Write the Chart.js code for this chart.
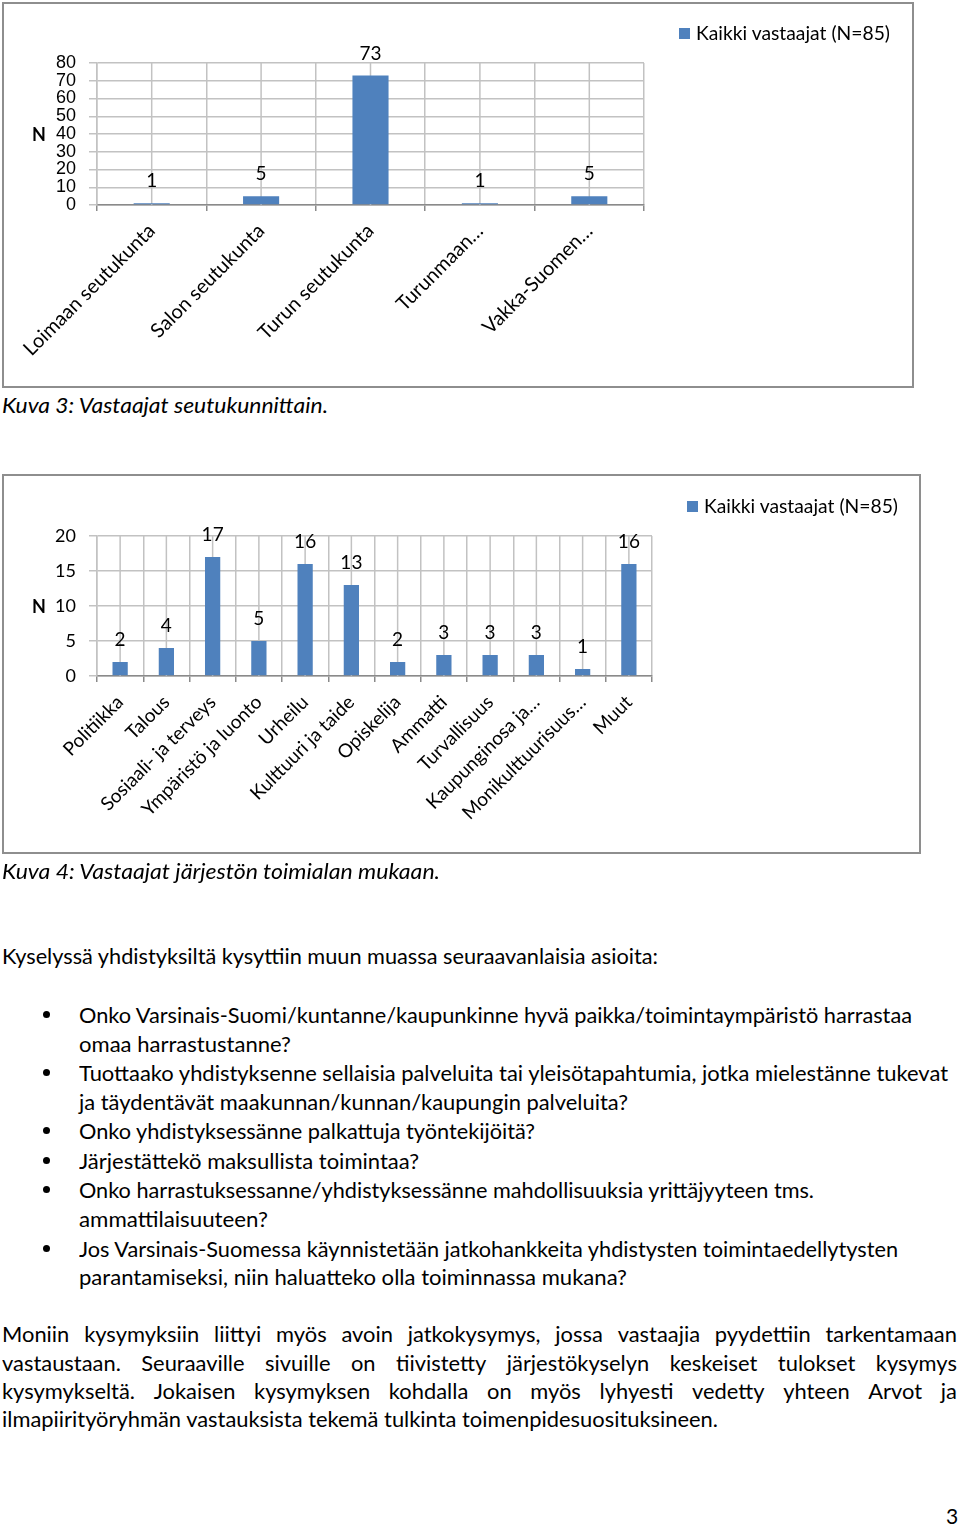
<!DOCTYPE html>
<html>
<head>
<meta charset="utf-8">
<script src="https://cdn.jsdelivr.net/npm/chart.js@4.4.1/dist/chart.umd.min.js"></script>
<style>
  body { margin: 0; width: 960px; height: 1525px; position: relative; overflow: hidden; background: #fff; font-family: Lato, "Open Sans", sans-serif; color: #000; }
  .box { position: absolute; border: 2px solid #8e8e8e; box-sizing: border-box; }
  canvas.cv { position: absolute; left: 0; }
  .ln { position: absolute; white-space: nowrap; font-size: 21px; line-height: 29px; height: 29px; transform-origin: 0 50%; }
  .ln.it { font-style: italic; }
  .ln.jf { display: flex; justify-content: space-between; }
  .dot { position: absolute; width: 7px; height: 7px; border-radius: 50%; background: #000; }
  .ax { position: absolute; font-weight: bold; font-size: 18px; line-height: 20px; }
  .lg { position: absolute; height: 24px; line-height: 24px; font-size: 19px; white-space: nowrap; }
  .lg i { position: absolute; left: 0; top: 7px; width: 11px; height: 11px; background: #4f81bd; }
  .lg span { position: absolute; left: 17px; top: 0; transform-origin: 0 50%; }
</style>
</head>
<body>

<div class="box" style="left:2px; top:2px; width:912px; height:386px;"></div>
<canvas id="regionChart" class="cv" style="top:0;" width="960" height="390"></canvas>
<div class="ax" style="left:32px; top:124px;">N</div>
<div class="lg" id="lg1" style="left:679px; top:21px;"><i></i><span></span></div>

<div class="box" style="left:2px; top:474px; width:919px; height:380px;"></div>
<canvas id="fieldChart" class="cv" style="top:470px;" width="960" height="400"></canvas>
<div class="ax" style="left:32px; top:596px;">N</div>
<div class="lg" id="lg2" style="left:687px; top:494px;"><i></i><span></span></div>

<div id="text"></div>

<script>
const seriesName = 'Kaikki vastaajat (N=85)';
const barColor = '#4f81bd';
const gridColor = '#c2c2c2';

// Kuva 3
const regionLabels = ['Loimaan seutukunta', 'Salon seutukunta', 'Turun seutukunta', 'Turunmaan…', 'Vakka-Suomen…'];
const regionValues = [1, 5, 73, 1, 5];
const regionTicks = [0, 10, 20, 30, 40, 50, 60, 70, 80];

// Kuva 4
const fieldLabels = ['Politiikka', 'Talous', 'Sosiaali- ja terveys', 'Ympäristö ja luonto', 'Urheilu',
  'Kulttuuri ja taide', 'Opiskelija', 'Ammatti', 'Turvallisuus', 'Kaupunginosa ja…', 'Monikulttuurisuus…', 'Muut'];
const fieldValues = [2, 4, 17, 5, 16, 13, 2, 3, 3, 3, 1, 16];
const fieldTicks = [0, 5, 10, 15, 20];

// text of the page
const lines = [
  { t: 'Kuva 3: Vastaajat seutukunnittain.', x: 2, y: 404, w: 326, it: 1 },
  { t: 'Kuva 4: Vastaajat järjestön toimialan mukaan.', x: 2, y: 870, w: 438, it: 1 },
  { t: 'Kyselyssä yhdistyksiltä kysyttiin muun muassa seuraavanlaisia asioita:', x: 2, y: 955, w: 656 },
  { t: 'Onko Varsinais-Suomi/kuntanne/kaupunkinne hyvä paikka/toimintaympäristö harrastaa', x: 79, y: 1014, w: 833, b: 1 },
  { t: 'omaa harrastustanne?', x: 79, y: 1043, w: 212 },
  { t: 'Tuottaako yhdistyksenne sellaisia palveluita tai yleisötapahtumia, jotka mielestänne tukevat', x: 79, y: 1072, w: 869, b: 1 },
  { t: 'ja täydentävät maakunnan/kunnan/kaupungin palveluita?', x: 79, y: 1101, w: 549 },
  { t: 'Onko yhdistyksessänne palkattuja työntekijöitä?', x: 79, y: 1130, w: 456, b: 1 },
  { t: 'Järjestättekö maksullista toimintaa?', x: 79, y: 1160, w: 340, b: 1 },
  { t: 'Onko harrastuksessanne/yhdistyksessänne mahdollisuuksia yrittäjyyteen tms.', x: 79, y: 1189, w: 735, b: 1 },
  { t: 'ammattilaisuuteen?', x: 79, y: 1218, w: 189 },
  { t: 'Jos Varsinais-Suomessa käynnistetään jatkohankkeita yhdistysten toimintaedellytysten', x: 79, y: 1248, w: 819, b: 1 },
  { t: 'parantamiseksi, niin haluatteko olla toiminnassa mukana?', x: 79, y: 1276, w: 548 },
  { t: 'Moniin kysymyksiin liittyi myös avoin jatkokysymys, jossa vastaajia pyydettiin tarkentamaan', x: 2, y: 1333, w: 955, j: 1 },
  { t: 'vastaustaan. Seuraaville sivuille on tiivistetty järjestökyselyn keskeiset tulokset kysymys', x: 2, y: 1362, w: 955, j: 1 },
  { t: 'kysymykseltä. Jokaisen kysymyksen kohdalla on myös lyhyesti vedetty yhteen Arvot ja', x: 2, y: 1390, w: 955, j: 1 },
  { t: 'ilmapiirityöryhmän vastauksista tekemä tulkinta toimenpidesuosituksineen.', x: 2, y: 1418, w: 716 },
  { t: '3', x: 946, y: 1515 }
];

const textRoot = document.getElementById('text');
const lineEls = lines.map(l => {
  const el = document.createElement('div');
  el.className = 'ln' + (l.it ? ' it' : '') + (l.j ? ' jf' : '');
  el.style.left = l.x + 'px';
  el.style.top = (l.y - 14.5) + 'px';
  if (l.j) {
    l.t.split(' ').forEach(w => { const s = document.createElement('span'); s.textContent = w; el.appendChild(s); });
  } else {
    el.textContent = l.t;
  }
  textRoot.appendChild(el);
  if (l.b) {
    const d = document.createElement('div');
    d.className = 'dot';
    d.style.left = '43px';
    d.style.top = (l.y - 3.5) + 'px';
    textRoot.appendChild(d);
  }
  return el;
});

function fitText() {
  let paraScale = 1;
  lines.forEach((l, i) => {
    if (l.j || !l.w) return;
    const s = l.w / lineEls[i].getBoundingClientRect().width;
    lineEls[i].style.transform = 'scaleX(' + s + ')';
    if (i === lines.length - 2) paraScale = s;
  });
  lines.forEach((l, i) => {
    if (!l.j) return;
    lineEls[i].style.width = (l.w / paraScale) + 'px';
    lineEls[i].style.transform = 'scaleX(' + paraScale + ')';
  });
  ['lg1', 'lg2'].forEach(id => {
    const sp = document.querySelector('#' + id + ' span');
    sp.textContent = seriesName;
    sp.style.transform = 'scaleX(' + (194 / sp.getBoundingClientRect().width) + ')';
  });
}

const midGrid = {
  id: 'midGrid',
  beforeDatasetsDraw(chart) {
    const { ctx, chartArea, scales: { x } } = chart;
    ctx.save();
    ctx.strokeStyle = gridColor;
    ctx.lineWidth = 1.5;
    x.ticks.forEach((t, i) => {
      const px = x.getPixelForTick(i);
      ctx.beginPath();
      ctx.moveTo(px, chartArea.top);
      ctx.lineTo(px, chartArea.bottom);
      ctx.stroke();
    });
    ctx.restore();
  }
};

const valueLabels = {
  id: 'valueLabels',
  afterDatasetsDraw(chart) {
    const ctx = chart.ctx;
    const ds = chart.data.datasets[0];
    ctx.save();
    ctx.font = '19px Lato';
    ctx.fillStyle = '#000';
    ctx.textAlign = 'center';
    ctx.textBaseline = 'middle';
    chart.getDatasetMeta(0).data.forEach((bar, i) => {
      ctx.fillText(String(ds.data[i]), bar.x, bar.y - 22);
    });
    ctx.restore();
  }
};

function makeChart(id, labels, values, ticks, cfg) {
  return new Chart(document.getElementById(id), {
    type: 'bar',
    data: {
      labels: labels,
      datasets: [{
        label: seriesName,
        data: values,
        backgroundColor: barColor,
        borderWidth: 0,
        categoryPercentage: 1,
        barPercentage: 0.33
      }]
    },
    options: {
      responsive: false,
      animation: false,
      events: [],
      layout: { padding: { top: cfg.top, right: cfg.right, left: 0, bottom: 0 } },
      plugins: { legend: { display: false }, tooltip: { enabled: false } },
      scales: {
        x: {
          offset: true,
          grid: { offset: true, color: gridColor, lineWidth: 1.5, tickLength: 6, tickColor: '#8a8a8a' },
          border: { color: '#8a8a8a', width: 1.5 },
          ticks: {
            autoSkip: false, maxRotation: 45, minRotation: 45, padding: cfg.xPad,
            color: '#000', font: { family: 'Lato', size: cfg.xFont }
          },
          afterFit: s => { s.height = cfg.xHeight; }
        },
        y: {
          min: ticks[0],
          max: ticks[ticks.length - 1],
          grid: { color: gridColor, lineWidth: 1.5, tickLength: 8 },
          border: { color: gridColor, width: 1.5 },
          ticks: {
            stepSize: ticks[1] - ticks[0], autoSkip: false, padding: 13, color: '#000',
            font: { family: cfg.yFamily, size: 18 }
          },
          afterFit: s => { s.width = 97; }
        }
      }
    },
    plugins: [midGrid, valueLabels]
  });
}

document.fonts.load('19px Lato').then(() => {
  fitText();
  makeChart('regionChart', regionLabels, regionValues, regionTicks,
    { top: 63, right: 960 - 644, xHeight: 390 - 205, xFont: 20, xPad: 8, yFamily: 'Liberation Sans' });
  makeChart('fieldChart', fieldLabels, fieldValues, fieldTicks,
    { top: 66, right: 960 - 652, xHeight: 400 - 206, xFont: 19, xPad: 9, yFamily: 'Lato' });
});
</script>
</body>
</html>
